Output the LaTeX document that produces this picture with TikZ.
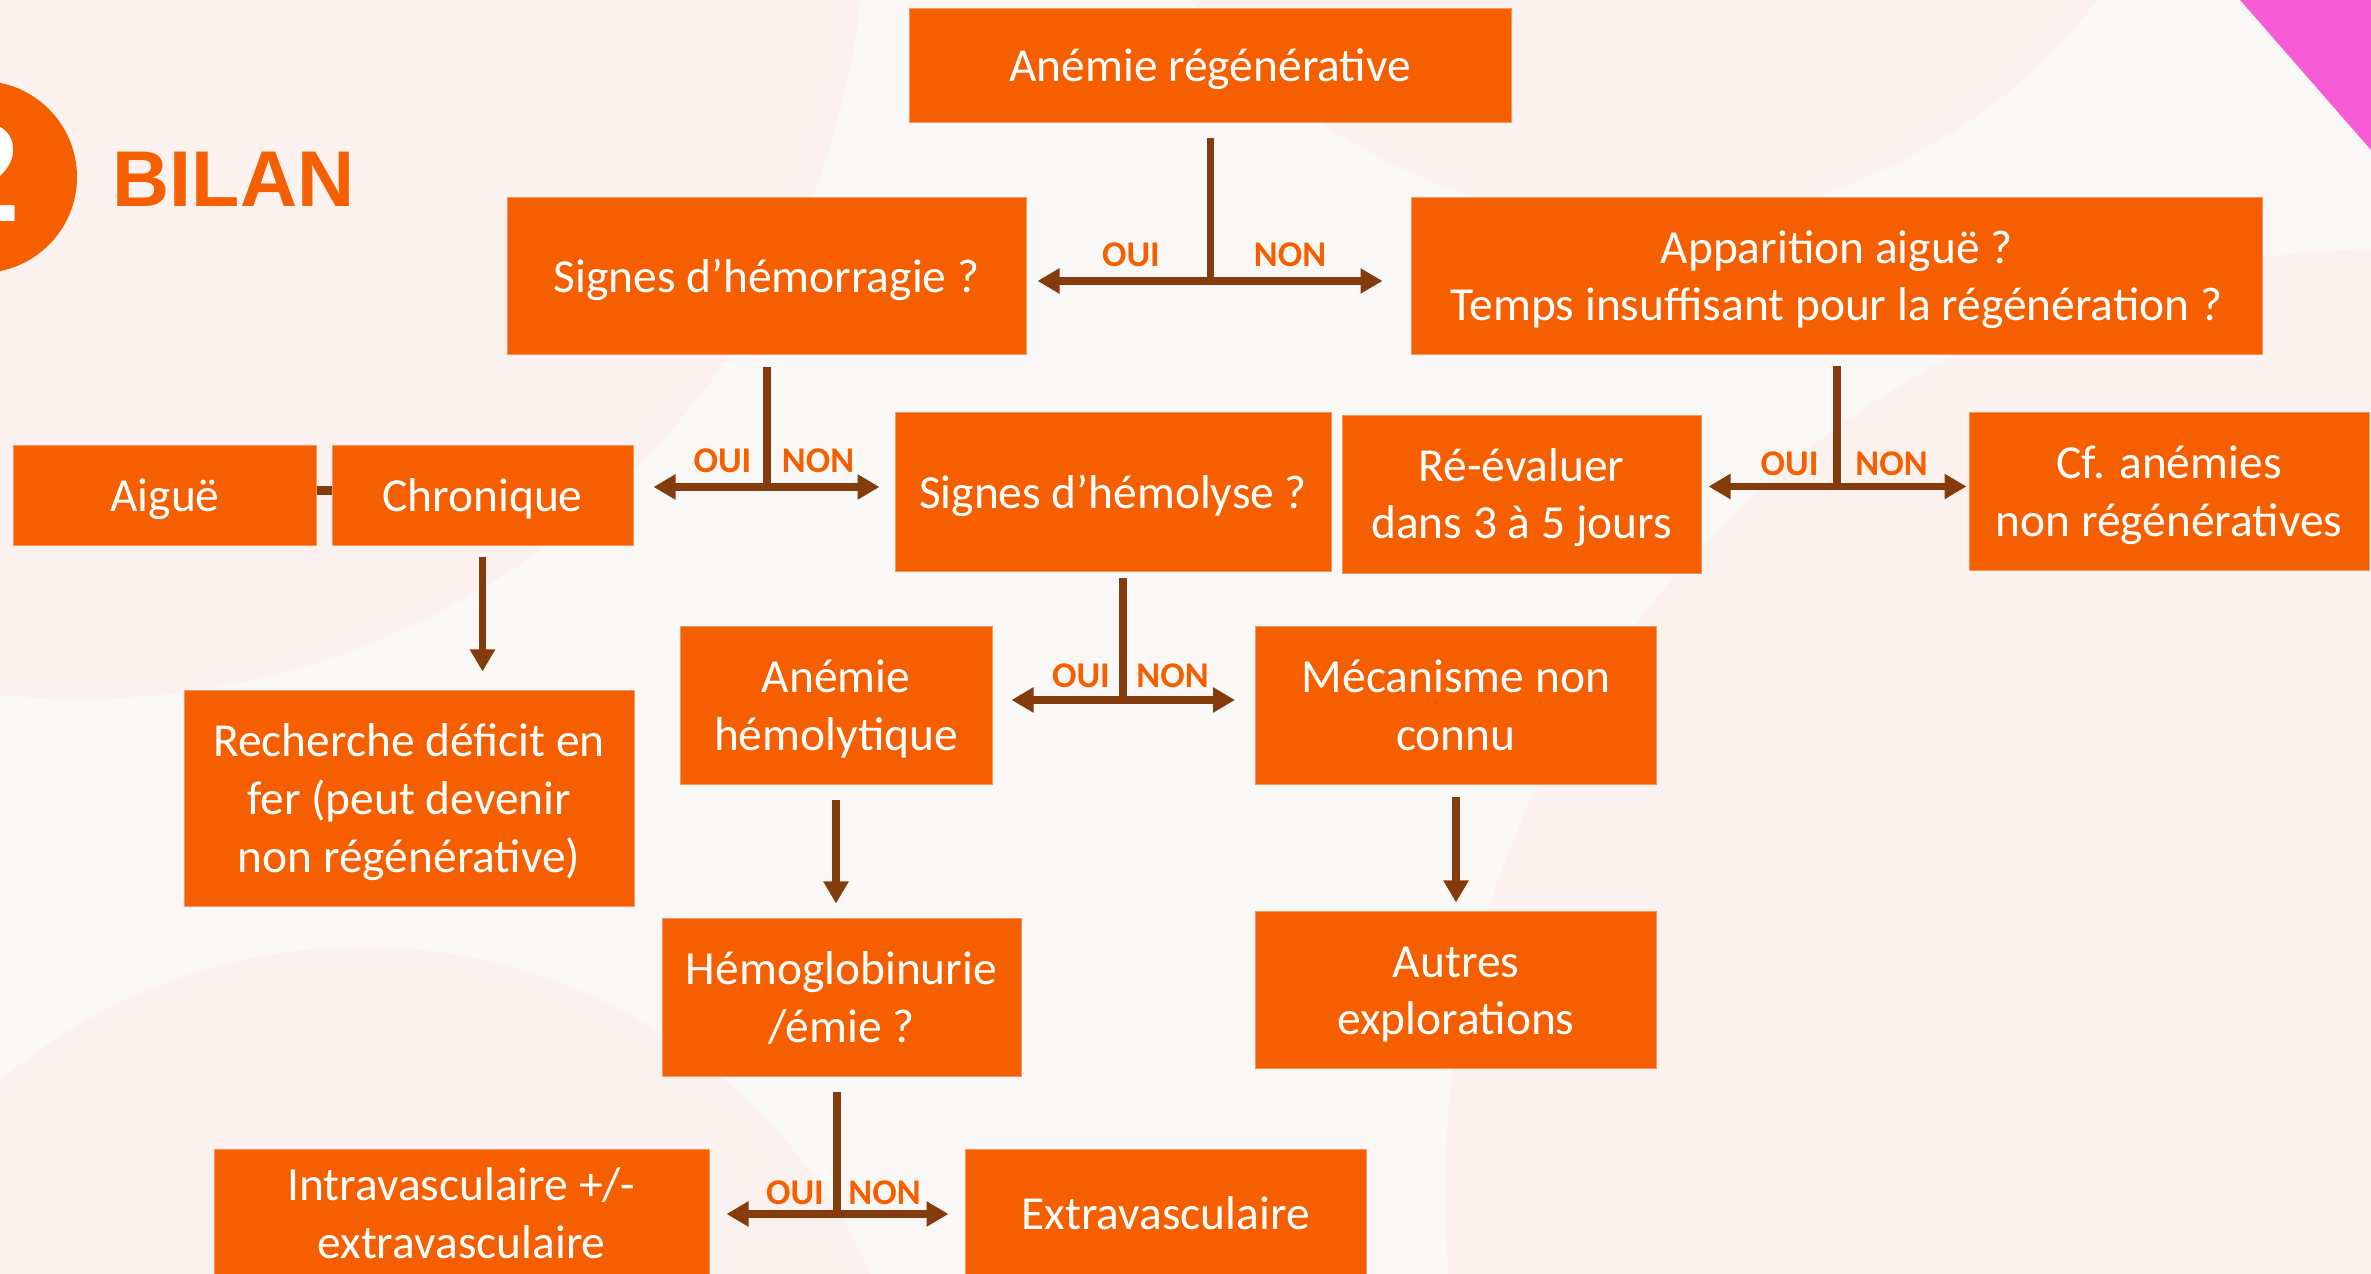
\documentclass[tikz,border=0pt]{standalone}
\usepackage{fontspec}
\setmainfont{Carlito}
\newfontfamily\bilanfont{Liberation Sans}
\usetikzlibrary{arrows.meta}

% box text, lowered a little inside its box
\newcommand{\boxlines}[1]{\raisebox{-0.040cm}[\height][\depth]{\begin{tabular}{@{}c@{}}#1\end{tabular}}}

\begin{document}
\begin{tikzpicture}[
    box/.style={fill=r245g95b0, draw=r248g150b95, line width=0.010cm, text=white,
      inner sep=0pt, font=\fontsize{13.5}{16.4}\selectfont},
    stem/.style={draw=r132g60b12, line width=0.072cm},
    arrowline/.style={stem, -{Triangle[length=0.22cm,width=0.24cm]}},
    yesno/.style={text=r245g95b0, anchor=base, inner sep=0pt,
      font=\fontsize{10.3}{12}\selectfont\bfseries}]

  % Changing colors
  \definecolor{r250g248b246}{rgb}{0.980000,0.972549,0.964706}%
  \definecolor{r251g241b238}{rgb}{0.984314,0.945098,0.933333}%
  \definecolor{r245g95b0}{rgb}{0.960784,0.372549,0.000000}%
  \definecolor{r248g150b95}{rgb}{0.972549,0.588235,0.372549}%
  \definecolor{r132g60b12}{rgb}{0.517647,0.235294,0.047059}%
  \definecolor{r247g91b214}{rgb}{0.968627,0.356863,0.839216}%

  \useasboundingbox (0.000000,0.000000) rectangle (23.710000,12.740000);
  \clip (0.000000,0.000000) rectangle (23.710000,12.740000);

  % Filling background and its circles
  \fill[r250g248b246] (0.000000,0.000000) rectangle (23.710000,12.740000);
  \fill[r251g241b238] (0.800000,13.600000) circle (7.850000);
  \fill[r251g241b238] (16.440000,16.260000) circle (5.740000);
  \fill[r251g241b238] (23.900000,0.800000) circle (9.450000);
  \fill[r251g241b238] (3.630000,-2.310000) circle (5.580000);

  % Filling corner triangle
  \fill[r247g91b214] (22.400000,12.740000) -- (23.710000,12.740000) -- (23.710000,11.240000) -- cycle;

  % Filling badge circle and title
  \fill[r245g95b0] (-0.190000,10.970000) circle (0.960000);
  \node (digit) [anchor=base east, text=white, inner sep=0pt,
    font=\bilanfont\bfseries\fontsize{40}{40}\selectfont] at (0.210000,10.520000) {2};
  \node (bilan) [anchor=base west, text=r245g95b0, inner sep=0pt,
    font=\bilanfont\bfseries\fontsize{22.5}{24}\selectfont] at (1.120000,10.670000) {BILAN};

  % Drawing boxes
  \node (anreg) [box, minimum width=6.02cm, minimum height=1.14cm] at (12.100000,12.080000) {\boxlines{Anémie régénérative}};
  \node (hemor) [box, minimum width=5.19cm, minimum height=1.57cm] at (7.665000,9.975000) {\boxlines{Signes d’hémorragie ?}};
  \node (appar) [box, minimum width=8.51cm, minimum height=1.57cm] at (18.365000,9.975000) {\boxlines{Apparition aiguë ?\\Temps insuffisant pour la régénération ?}};
  \node (aigue) [box, minimum width=3.02cm, minimum height=1.00cm] at (1.650000,7.780000) {\boxlines{Aiguë}};
  \node (chron) [box, minimum width=3.01cm, minimum height=1.00cm] at (4.825000,7.780000) {\boxlines{Chronique}};
  \node (hemol) [box, minimum width=4.36cm, minimum height=1.59cm] at (11.130000,7.815000) {\boxlines{Signes d’hémolyse ?}};
  \node (reeval) [box, minimum width=3.59cm, minimum height=1.58cm] at (15.215000,7.795000) {\boxlines{Ré-évaluer\\dans 3 à 5 jours}};
  \node (cfanem) [box, minimum width=4.00cm, minimum height=1.58cm] at (21.690000,7.820000) {\boxlines{Cf. anémies\\non régénératives}};
  \node (anhemo) [box, minimum width=3.12cm, minimum height=1.58cm] at (8.360000,5.680000) {\boxlines{Anémie\\hémolytique}};
  \node (mecan) [box, minimum width=4.01cm, minimum height=1.58cm] at (14.560000,5.680000) {\boxlines{Mécanisme non\\connu}};
  \node (recher) [box, minimum width=4.50cm, minimum height=2.16cm] at (4.090000,4.750000) {\boxlines{Recherche déficit en\\fer (peut devenir\\non régénérative)}};
  \node (hemogl) [box, minimum width=3.59cm, minimum height=1.58cm] at (8.415000,2.760000) {\boxlines{Hémoglobinurie\\/émie ?}};
  \node (autres) [box, minimum width=4.01cm, minimum height=1.57cm] at (14.560000,2.835000) {\boxlines{Autres\\explorations}};
  \node (intrav) [box, minimum width=4.95cm, minimum height=1.28cm] at (4.615000,0.600000) {\boxlines{Intravasculaire +/-\\extravasculaire}};
  \node (extrav) [box, minimum width=4.01cm, minimum height=1.28cm] at (11.655000,0.600000) {\boxlines{Extravasculaire}};

  % Marking junction points
  \coordinate (j1) at (12.105000,9.930000);
  \coordinate (j2) at (7.670000,7.870000);
  \coordinate (j3) at (18.370000,7.875000);
  \coordinate (j4) at (11.230000,5.740000);
  \coordinate (j5) at (8.370000,0.600000);

  % Drawing fork under anreg
  \draw[stem, shorten <=0.15cm] (anreg.south -| j1) -- (j1);
  \draw[arrowline, shorten >=0.11cm] (j1) -- (hemor.east |- j1);
  \draw[arrowline, shorten >=0.28cm] (j1) -- (appar.west |- j1);
  \node (oui1) [yesno] at (11.310000,10.070000) {OUI};
  \node (non1) [yesno] at (12.900000,10.070000) {NON};

  % Drawing fork under hemor
  \draw[stem, shorten <=0.12cm] (hemor.south -| j2) -- (j2);
  \draw[arrowline, shorten >=0.20cm] (j2) -- (chron.east |- j2);
  \draw[arrowline, shorten >=0.15cm] (j2) -- (hemol.west |- j2);
  \node (oui2) [yesno] at (7.225000,8.010000) {OUI};
  \node (non2) [yesno] at (8.180000,8.010000) {NON};

  % Drawing fork under appar
  \draw[stem, shorten <=0.11cm] (appar.south -| j3) -- (j3);
  \draw[arrowline, shorten >=0.07cm] (j3) -- (reeval.east |- j3);
  \draw[arrowline, shorten >=0.02cm] (j3) -- (cfanem.west |- j3);
  \node (oui3) [yesno] at (17.895000,7.980000) {OUI};
  \node (non3) [yesno] at (18.915000,7.980000) {NON};

  % Drawing fork under hemol
  \draw[stem, shorten <=0.06cm] (hemol.south -| j4) -- (j4);
  \draw[arrowline, shorten >=0.19cm] (j4) -- (anhemo.east |- j4);
  \draw[arrowline, shorten >=0.20cm] (j4) -- (mecan.west |- j4);
  \node (oui4) [yesno] at (10.810000,5.860000) {OUI};
  \node (non4) [yesno] at (11.725000,5.860000) {NON};

  % Drawing fork under hemogl
  \draw[stem, shorten <=0.15cm] (hemogl.south -| j5) -- (j5);
  \draw[arrowline, shorten >=0.17cm] (j5) -- (intrav.east |- j5);
  \draw[arrowline, shorten >=0.16cm] (j5) -- (extrav.west |- j5);
  \node (oui5) [yesno] at (7.950000,0.690000) {OUI};
  \node (non5) [yesno] at (8.845000,0.690000) {NON};

  % Drawing link aigue chron
  \draw[stem, line width=0.090cm] ([yshift=0.05cm]aigue.east) -- ([yshift=0.05cm]chron.west);

  % Drawing straight arrows
  \draw[arrowline, shorten <=0.11cm, shorten >=0.19cm] (chron.south) -- (chron.south |- recher.north);
  \draw[arrowline, shorten <=0.15cm, shorten >=0.15cm] (anhemo.south) -- (anhemo.south |- hemogl.north);
  \draw[arrowline, shorten <=0.12cm, shorten >=0.09cm] (mecan.south) -- (autres.north);
\end{tikzpicture}
\end{document}
